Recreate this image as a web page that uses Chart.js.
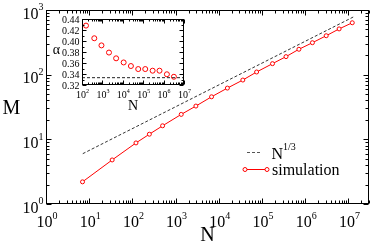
<!DOCTYPE html>
<html>
<head>
<meta charset="utf-8">
<script src="https://cdn.jsdelivr.net/npm/chart.js@4"></script>
<style>
  html, body { margin: 0; padding: 0; background: #fff; }
  #wrap { position: relative; width: 374px; height: 244px; }
  #wrap canvas { position: absolute; left: 0; top: 0; }
</style>
</head>
<body>
<div id="wrap">
  <canvas id="main" width="374" height="244"></canvas>
  <canvas id="inset" width="374" height="244"></canvas>
</div>
<script>
// main plot: M vs N
const simN = [7, 34, 121, 247, 500, 1350, 2950, 6800, 15800, 36000, 75000, 175000, 360000, 715000, 1470000, 3070000, 6100000, 12300000];
const simM = [2.2, 4.8, 8.8, 12, 16.2, 24.3, 32.7, 45.5, 62, 82.6, 110, 148, 190, 247, 312, 400, 510, 635];
const powerN = [7.1, 13000000];
const powerM = [6.0, 780];

// inset: alpha vs N
const alphaN = [157, 400, 900, 2100, 4700, 11000, 25000, 57000, 126000, 290000, 630000, 1450000, 3200000];
const alphaVal = [0.428, 0.405, 0.392, 0.379, 0.3685, 0.361, 0.3545, 0.349, 0.349, 0.346, 0.346, 0.3395, 0.335];
const refN = [100, 10000000];
const refAlpha = [0.3333, 0.3333];
const alphaTicks = [0.32, 0.33, 0.34, 0.35, 0.36, 0.37, 0.38, 0.39, 0.40, 0.41, 0.42, 0.43, 0.44];

const SERIF = '"Liberation Serif", "DejaVu Serif", serif';

function zip(xs, ys) {
  return xs.map((x, i) => ({ x: x, y: ys[i] }));
}

function logTicks(min, max) {
  const out = [];
  for (let d = Math.floor(Math.log10(min)); d <= Math.ceil(Math.log10(max)); d++) {
    for (let m = 1; m <= 9; m++) {
      const v = m * Math.pow(10, d);
      if (v >= min * 0.999 && v <= max * 1.001) out.push({ v: v, major: m === 1, exp: d });
    }
  }
  return out;
}

// "10" with a raised exponent; align is for the whole label
function powLabel(ctx, exp, x, y, size, align) {
  const supSize = Math.round(size * 0.62);
  ctx.font = size + 'px ' + SERIF;
  const w1 = ctx.measureText('10').width;
  ctx.font = supSize + 'px ' + SERIF;
  const w2 = ctx.measureText(String(exp)).width;
  let left = x;
  if (align === 'center') left = x - (w1 + w2) / 2;
  if (align === 'right') left = x - w1 - w2;
  ctx.textAlign = 'left';
  ctx.textBaseline = 'alphabetic';
  ctx.font = size + 'px ' + SERIF;
  ctx.fillText('10', left, y);
  ctx.font = supSize + 'px ' + SERIF;
  ctx.fillText(String(exp), left + w1, y - size * 0.52);
}

function drawFrameTicks(chart, xt, yt, majLen, minLen) {
  const ctx = chart.ctx;
  const a = chart.chartArea;
  const sx = chart.scales.x, sy = chart.scales.y;
  const L = Math.round(a.left) + 0.5, R = Math.round(a.right) - 0.5;
  const T = Math.round(a.top) + 0.5, B = Math.round(a.bottom) - 0.5;
  ctx.save();
  ctx.strokeStyle = '#000';
  ctx.lineWidth = 1;
  ctx.strokeRect(L, T, R - L, B - T);
  ctx.beginPath();
  xt.forEach(t => {
    const px = Math.round(sx.getPixelForValue(t.v)) + 0.5;
    const len = t.major ? majLen : minLen;
    ctx.moveTo(px, B); ctx.lineTo(px, B - len);
    ctx.moveTo(px, T); ctx.lineTo(px, T + len);
  });
  yt.forEach(t => {
    const py = Math.round(sy.getPixelForValue(t.v)) + 0.5;
    const len = t.major ? majLen : minLen;
    ctx.moveTo(L, py); ctx.lineTo(L + len, py);
    ctx.moveTo(R, py); ctx.lineTo(R - len, py);
  });
  ctx.stroke();
  ctx.restore();
}

const mainAxes = {
  id: 'mainAxes',
  afterDraw(chart) {
    const ctx = chart.ctx;
    const a = chart.chartArea;
    const sx = chart.scales.x, sy = chart.scales.y;
    const xt = logTicks(1, 3e7), yt = logTicks(1, 1000);
    drawFrameTicks(chart, xt, yt, 5, 3);
    ctx.save();
    ctx.fillStyle = '#000';
    xt.filter(t => t.major).forEach(t => {
      powLabel(ctx, t.exp, sx.getPixelForValue(t.v) + 1, a.bottom + 23, 16, 'center');
    });
    yt.filter(t => t.major).forEach(t => {
      powLabel(ctx, t.exp, a.left - 2.5, sy.getPixelForValue(t.v) + 8.5, 16, 'right');
    });
    // axis titles
    ctx.font = '20px ' + SERIF;
    ctx.textAlign = 'center';
    ctx.fillText('N', (a.left + a.right) / 2, 241);
    ctx.fillText('M', 11.5, 114);

    // legend
    ctx.strokeStyle = '#555';
    ctx.lineWidth = 1;
    ctx.setLineDash([3, 2]);
    ctx.beginPath();
    ctx.moveTo(247, 152.5); ctx.lineTo(262, 152.5);
    ctx.stroke();
    ctx.setLineDash([]);
    ctx.textAlign = 'left';
    ctx.font = '16px ' + SERIF;
    ctx.fillText('N', 271.5, 158.5);
    ctx.font = '10px ' + SERIF;
    ctx.fillText('1/3', 283, 149.5);
    ctx.strokeStyle = 'red';
    ctx.beginPath();
    ctx.moveTo(245, 169.5); ctx.lineTo(267, 169.5);
    ctx.stroke();
    [245, 267].forEach(cx => {
      ctx.beginPath();
      ctx.fillStyle = '#fff';
      ctx.arc(cx, 169.5, 2, 0, Math.PI * 2);
      ctx.fill();
      ctx.stroke();
    });
    ctx.fillStyle = '#000';
    ctx.font = '16px ' + SERIF;
    ctx.fillText('simulation', 272, 174.5);
    ctx.restore();
  }
};

const insetAxes = {
  id: 'insetAxes',
  afterDraw(chart) {
    const ctx = chart.ctx;
    const a = chart.chartArea;
    const sx = chart.scales.x, sy = chart.scales.y;
    const xt = logTicks(100, 1e7);
    const yt = alphaTicks.map((v, i) => ({ v: v, major: i % 2 === 0 }));
    drawFrameTicks(chart, xt, yt, 4, 2);
    ctx.save();
    ctx.fillStyle = '#000';
    xt.filter(t => t.major).forEach(t => {
      powLabel(ctx, t.exp, sx.getPixelForValue(t.v) + 0.5, a.bottom + 13, 10, 'center');
    });
    ctx.font = '10px ' + SERIF;
    ctx.textAlign = 'right';
    yt.filter(t => t.major).forEach(t => {
      ctx.fillText(t.v.toFixed(2), a.left - 2.5, sy.getPixelForValue(t.v) + 3.5);
    });
    ctx.textAlign = 'center';
    ctx.font = '14px ' + SERIF;
    ctx.fillText('N', (a.left + a.right) / 2, 110);
    ctx.fillText('\u03b1', 56.5, 53.5);
    ctx.restore();
  }
};

new Chart(document.getElementById('main'), {
  type: 'line',
  data: {
    datasets: [
      {
        label: 'N^1/3',
        data: zip(powerN, powerM),
        borderColor: '#333',
        borderWidth: 1,
        borderDash: [3, 2],
        pointRadius: 0,
        fill: false
      },
      {
        label: 'simulation',
        data: zip(simN, simM),
        borderColor: 'red',
        borderWidth: 1,
        pointRadius: 2,
        pointBorderWidth: 1,
        pointBorderColor: 'red',
        pointBackgroundColor: '#fff',
        fill: false
      }
    ]
  },
  options: {
    responsive: false,
    animation: false,
    devicePixelRatio: 1,
    events: [],
    layout: { padding: { left: 46, top: 10, right: 1, bottom: 40 } },
    plugins: { legend: { display: false }, tooltip: { enabled: false } },
    scales: {
      x: { type: 'logarithmic', min: 1, max: 3e7, display: false },
      y: { type: 'logarithmic', min: 1, max: 1000, display: false }
    }
  },
  plugins: [mainAxes]
});

new Chart(document.getElementById('inset'), {
  type: 'line',
  data: {
    datasets: [
      {
        data: zip(refN, refAlpha),
        borderColor: '#222',
        borderWidth: 1,
        borderDash: [3, 2],
        pointRadius: 0,
        fill: false
      },
      {
        data: zip(alphaN, alphaVal),
        showLine: false,
        borderColor: 'red',
        pointRadius: 2.5,
        pointBorderWidth: 1,
        pointBorderColor: 'red',
        pointBackgroundColor: 'rgba(0,0,0,0)'
      }
    ]
  },
  options: {
    responsive: false,
    animation: false,
    devicePixelRatio: 1,
    events: [],
    layout: { padding: { left: 82, top: 19, right: 190, bottom: 159 } },
    plugins: { legend: { display: false }, tooltip: { enabled: false } },
    scales: {
      x: { type: 'logarithmic', min: 100, max: 1e7, display: false },
      y: { type: 'linear', min: 0.32, max: 0.44, display: false }
    }
  },
  plugins: [insetAxes]
});
</script>
</body>
</html>
